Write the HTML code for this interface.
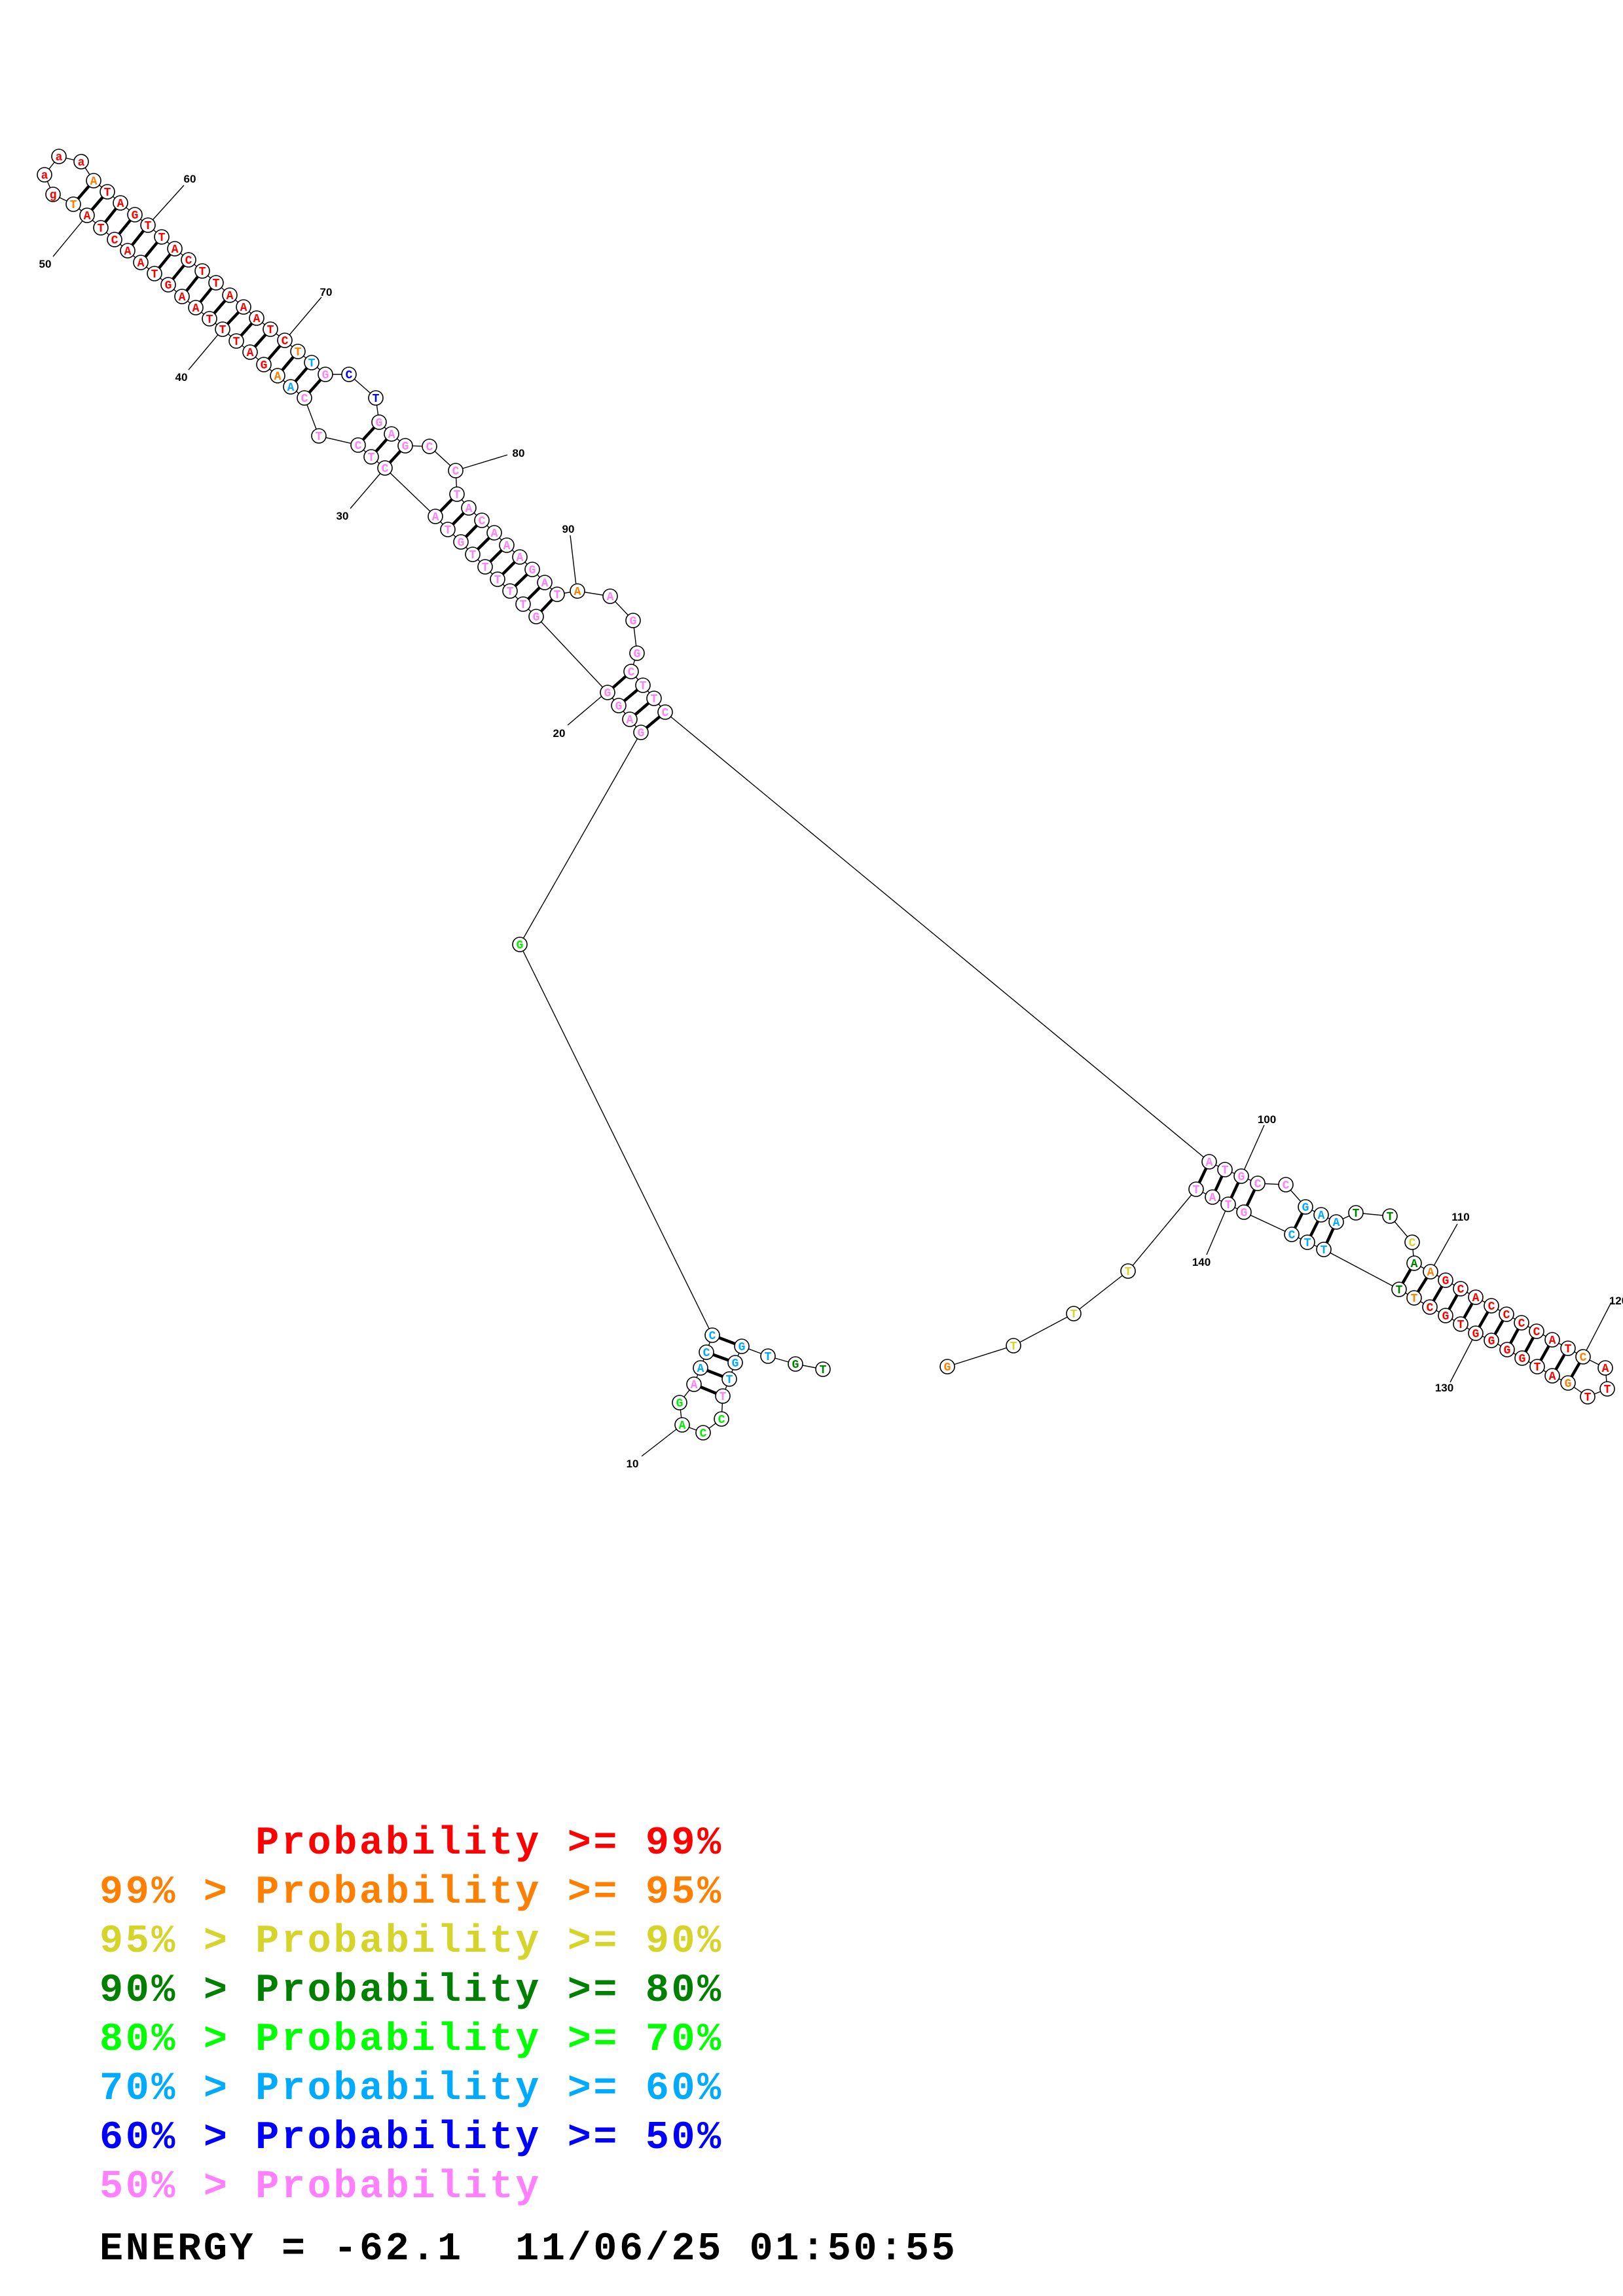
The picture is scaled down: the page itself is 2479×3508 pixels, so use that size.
<!DOCTYPE html>
<html><head><meta charset="utf-8"><style>
html,body{margin:0;padding:0;background:#fff;}
svg{display:block;}
.n circle{fill:#fff;stroke:#000;stroke-width:1.6;}
.n text{font-family:"Liberation Mono",monospace;font-weight:bold;font-size:18px;text-anchor:middle;}
.rd{fill:#ff0000}.or{fill:#ff8000}.ye{fill:#d4d42a}.dg{fill:#008000}.gr{fill:#00ee00}.lb{fill:#00aaff}.bl{fill:#0000ff}.pk{fill:#ff80ff}
.lab{font-family:"Liberation Sans",sans-serif;font-weight:bold;font-size:17px;fill:#000;text-anchor:middle;}
.leg{font-family:"Liberation Mono",monospace;font-weight:bold;font-size:60px;letter-spacing:3.7px;}
</style></head><body>
<svg width="2479" height="3508" viewBox="0 0 2479 3508" xmlns="http://www.w3.org/2000/svg">
<rect width="2479" height="3508" fill="#fff"/>
<g stroke="#000" stroke-width="1.4" fill="none">
<polyline points="1257,2092 1215,2084 1173,2072 1133,2057 1123,2082 1114,2107 1104,2133 1102,2168 1074,2189 1042,2177 1038,2143 1060,2115 1070,2090 1079,2066 1088,2040 794,1443 979,1119 962,1099 945,1078 928,1058 819,942 799,923 779,903 760,885 741,866 722,847 704,828 684,809 665,789 588,715 567,698 547,680 487,666 465,608 444,591 424,574 403,557 382,538 361,521 340,503 320,487 299,470 278,453 257,435 236,418 215,401 195,383 175,366 154,348 133,329 112,312 81,297 68,267 90,239 124,247 143,276 164,293 184,310 206,328 226,344 247,362 267,380 288,397 309,414 330,432 351,451 372,469 392,486 413,503 435,520 455,537 476,554 497,572 533,572 574,608 579,645 598,663 619,681 656,682 696,719 698,755 716,776 736,795 755,814 774,833 794,851 813,870 832,890 851,908 882,903 932,911 967,948 973,998 964,1026 982,1047 999,1067 1016,1088 1847,1775 1871,1787 1896,1797 1921,1808 1964,1810 1994,1844 2018,1856 2041,1867 2071,1853 2123,1858 2157,1898 2160,1930 2185,1943 2208,1956 2231,1969 2254,1982 2278,1995 2301,2008 2324,2021 2347,2034 2371,2047 2395,2060 2418,2073 2452,2090 2455,2122 2425,2134 2395,2113 2371,2102 2348,2088 2325,2075 2302,2062 2278,2048 2254,2037 2231,2023 2208,2010 2184,1997 2160,1983 2137,1970 2022,1909 1997,1898 1973,1886 1900,1852 1876,1840 1852,1829 1827,1817 1723,1942 1640,2007 1548,2056 1447,2088"/>
<!-- leader lines -->
<line x1="1034" y1="2183" x2="980" y2="2225"/>
<line x1="920" y1="1063" x2="867" y2="1108"/>
<line x1="588" y1="715" x2="535" y2="777"/>
<line x1="340" y1="503" x2="288" y2="565"/>
<line x1="133" y1="329" x2="81" y2="392"/>
<line x1="226" y1="344" x2="281" y2="283"/>
<line x1="435" y1="520" x2="491" y2="454"/>
<line x1="696" y1="719" x2="775" y2="695"/>
<line x1="881" y1="903" x2="871" y2="818"/>
<line x1="1896" y1="1797" x2="1931" y2="1719"/>
<line x1="2185" y1="1943" x2="2226" y2="1870"/>
<line x1="2418" y1="2073" x2="2461" y2="1990"/>
<line x1="2254" y1="2037" x2="2215" y2="2112"/>
<line x1="1876" y1="1840" x2="1843" y2="1917"/>
</g>
<g stroke="#000" stroke-width="4.5">
<line x1="1133" y1="2057" x2="1088" y2="2040"/><line x1="1123" y1="2082" x2="1079" y2="2066"/><line x1="1114" y1="2107" x2="1070" y2="2090"/><line x1="1104" y1="2133" x2="1060" y2="2115"/>
<line x1="979" y1="1119" x2="1016" y2="1088"/><line x1="962" y1="1099" x2="999" y2="1067"/><line x1="945" y1="1078" x2="982" y2="1047"/><line x1="928" y1="1058" x2="964" y2="1026"/>
<line x1="819" y1="942" x2="851" y2="908"/><line x1="799" y1="923" x2="832" y2="890"/><line x1="779" y1="903" x2="813" y2="870"/><line x1="760" y1="885" x2="794" y2="851"/><line x1="741" y1="866" x2="774" y2="833"/><line x1="722" y1="847" x2="755" y2="814"/><line x1="704" y1="828" x2="736" y2="795"/><line x1="684" y1="809" x2="716" y2="776"/><line x1="665" y1="789" x2="698" y2="755"/>
<line x1="588" y1="715" x2="619" y2="681"/><line x1="567" y1="698" x2="598" y2="663"/><line x1="547" y1="680" x2="579" y2="645"/>
<line x1="465" y1="608" x2="497" y2="572"/><line x1="444" y1="591" x2="476" y2="554"/><line x1="424" y1="574" x2="455" y2="537"/><line x1="403" y1="557" x2="435" y2="520"/><line x1="382" y1="538" x2="413" y2="503"/><line x1="361" y1="521" x2="392" y2="486"/><line x1="340" y1="503" x2="372" y2="469"/><line x1="320" y1="487" x2="351" y2="451"/><line x1="299" y1="470" x2="330" y2="432"/><line x1="278" y1="453" x2="309" y2="414"/><line x1="257" y1="435" x2="288" y2="397"/><line x1="236" y1="418" x2="267" y2="380"/><line x1="215" y1="401" x2="247" y2="362"/><line x1="195" y1="383" x2="226" y2="344"/><line x1="175" y1="366" x2="206" y2="328"/><line x1="154" y1="348" x2="184" y2="310"/><line x1="133" y1="329" x2="164" y2="293"/><line x1="112" y1="312" x2="143" y2="276"/>
<line x1="1847" y1="1775" x2="1827" y2="1817"/><line x1="1871" y1="1787" x2="1852" y2="1829"/><line x1="1896" y1="1797" x2="1876" y2="1840"/><line x1="1921" y1="1808" x2="1900" y2="1852"/>
<line x1="1994" y1="1844" x2="1973" y2="1886"/><line x1="2018" y1="1856" x2="1997" y2="1898"/><line x1="2041" y1="1867" x2="2022" y2="1909"/>
<line x1="2160" y1="1930" x2="2137" y2="1970"/><line x1="2185" y1="1943" x2="2160" y2="1983"/><line x1="2208" y1="1956" x2="2184" y2="1997"/><line x1="2231" y1="1969" x2="2208" y2="2010"/><line x1="2254" y1="1982" x2="2231" y2="2023"/><line x1="2278" y1="1995" x2="2254" y2="2037"/><line x1="2301" y1="2008" x2="2278" y2="2048"/><line x1="2324" y1="2021" x2="2302" y2="2062"/><line x1="2347" y1="2034" x2="2325" y2="2075"/><line x1="2371" y1="2047" x2="2348" y2="2088"/><line x1="2395" y1="2060" x2="2371" y2="2102"/><line x1="2418" y1="2073" x2="2395" y2="2113"/>
</g>
<g class="n">
<circle cx="1257" cy="2092" r="11"/><text x="1257" y="2098" class="dg">T</text>
<circle cx="1215" cy="2084" r="11"/><text x="1215" y="2090" class="dg">G</text>
<circle cx="1173" cy="2072" r="11"/><text x="1173" y="2078" class="lb">T</text>
<circle cx="1133" cy="2057" r="11"/><text x="1133" y="2063" class="lb">G</text>
<circle cx="1123" cy="2082" r="11"/><text x="1123" y="2088" class="lb">G</text>
<circle cx="1114" cy="2107" r="11"/><text x="1114" y="2113" class="lb">T</text>
<circle cx="1104" cy="2133" r="11"/><text x="1104" y="2139" class="pk">T</text>
<circle cx="1102" cy="2168" r="11"/><text x="1102" y="2174" class="gr">C</text>
<circle cx="1074" cy="2189" r="11"/><text x="1074" y="2195" class="gr">C</text>
<circle cx="1042" cy="2177" r="11"/><text x="1042" y="2183" class="gr">A</text>
<circle cx="1038" cy="2143" r="11"/><text x="1038" y="2149" class="gr">G</text>
<circle cx="1060" cy="2115" r="11"/><text x="1060" y="2121" class="pk">A</text>
<circle cx="1070" cy="2090" r="11"/><text x="1070" y="2096" class="lb">A</text>
<circle cx="1079" cy="2066" r="11"/><text x="1079" y="2072" class="lb">C</text>
<circle cx="1088" cy="2040" r="11"/><text x="1088" y="2046" class="lb">C</text>
<circle cx="794" cy="1443" r="11"/><text x="794" y="1449" class="gr">G</text>
<circle cx="979" cy="1119" r="11"/><text x="979" y="1125" class="pk">G</text>
<circle cx="962" cy="1099" r="11"/><text x="962" y="1105" class="pk">A</text>
<circle cx="945" cy="1078" r="11"/><text x="945" y="1084" class="pk">G</text>
<circle cx="928" cy="1058" r="11"/><text x="928" y="1064" class="pk">G</text>
<circle cx="819" cy="942" r="11"/><text x="819" y="948" class="pk">G</text>
<circle cx="799" cy="923" r="11"/><text x="799" y="929" class="pk">T</text>
<circle cx="779" cy="903" r="11"/><text x="779" y="909" class="pk">T</text>
<circle cx="760" cy="885" r="11"/><text x="760" y="891" class="pk">T</text>
<circle cx="741" cy="866" r="11"/><text x="741" y="872" class="pk">T</text>
<circle cx="722" cy="847" r="11"/><text x="722" y="853" class="pk">T</text>
<circle cx="704" cy="828" r="11"/><text x="704" y="834" class="pk">G</text>
<circle cx="684" cy="809" r="11"/><text x="684" y="815" class="pk">T</text>
<circle cx="665" cy="789" r="11"/><text x="665" y="795" class="pk">A</text>
<circle cx="588" cy="715" r="11"/><text x="588" y="721" class="pk">C</text>
<circle cx="567" cy="698" r="11"/><text x="567" y="704" class="pk">T</text>
<circle cx="547" cy="680" r="11"/><text x="547" y="686" class="pk">C</text>
<circle cx="487" cy="666" r="11"/><text x="487" y="672" class="pk">T</text>
<circle cx="465" cy="608" r="11"/><text x="465" y="614" class="pk">C</text>
<circle cx="444" cy="591" r="11"/><text x="444" y="597" class="lb">A</text>
<circle cx="424" cy="574" r="11"/><text x="424" y="580" class="or">A</text>
<circle cx="403" cy="557" r="11"/><text x="403" y="563" class="rd">G</text>
<circle cx="382" cy="538" r="11"/><text x="382" y="544" class="rd">A</text>
<circle cx="361" cy="521" r="11"/><text x="361" y="527" class="rd">T</text>
<circle cx="340" cy="503" r="11"/><text x="340" y="509" class="rd">T</text>
<circle cx="320" cy="487" r="11"/><text x="320" y="493" class="rd">T</text>
<circle cx="299" cy="470" r="11"/><text x="299" y="476" class="rd">A</text>
<circle cx="278" cy="453" r="11"/><text x="278" y="459" class="rd">A</text>
<circle cx="257" cy="435" r="11"/><text x="257" y="441" class="rd">G</text>
<circle cx="236" cy="418" r="11"/><text x="236" y="424" class="rd">T</text>
<circle cx="215" cy="401" r="11"/><text x="215" y="407" class="rd">A</text>
<circle cx="195" cy="383" r="11"/><text x="195" y="389" class="rd">A</text>
<circle cx="175" cy="366" r="11"/><text x="175" y="372" class="rd">C</text>
<circle cx="154" cy="348" r="11"/><text x="154" y="354" class="rd">T</text>
<circle cx="133" cy="329" r="11"/><text x="133" y="335" class="rd">A</text>
<circle cx="112" cy="312" r="11"/><text x="112" y="318" class="or">T</text>
<circle cx="81" cy="297" r="11"/><text x="81" y="303" class="rd">g</text>
<circle cx="68" cy="267" r="11"/><text x="68" y="273" class="rd">a</text>
<circle cx="90" cy="239" r="11"/><text x="90" y="245" class="rd">a</text>
<circle cx="124" cy="247" r="11"/><text x="124" y="253" class="rd">a</text>
<circle cx="143" cy="276" r="11"/><text x="143" y="282" class="or">A</text>
<circle cx="164" cy="293" r="11"/><text x="164" y="299" class="rd">T</text>
<circle cx="184" cy="310" r="11"/><text x="184" y="316" class="rd">A</text>
<circle cx="206" cy="328" r="11"/><text x="206" y="334" class="rd">G</text>
<circle cx="226" cy="344" r="11"/><text x="226" y="350" class="rd">T</text>
<circle cx="247" cy="362" r="11"/><text x="247" y="368" class="rd">T</text>
<circle cx="267" cy="380" r="11"/><text x="267" y="386" class="rd">A</text>
<circle cx="288" cy="397" r="11"/><text x="288" y="403" class="rd">C</text>
<circle cx="309" cy="414" r="11"/><text x="309" y="420" class="rd">T</text>
<circle cx="330" cy="432" r="11"/><text x="330" y="438" class="rd">T</text>
<circle cx="351" cy="451" r="11"/><text x="351" y="457" class="rd">A</text>
<circle cx="372" cy="469" r="11"/><text x="372" y="475" class="rd">A</text>
<circle cx="392" cy="486" r="11"/><text x="392" y="492" class="rd">A</text>
<circle cx="413" cy="503" r="11"/><text x="413" y="509" class="rd">T</text>
<circle cx="435" cy="520" r="11"/><text x="435" y="526" class="rd">C</text>
<circle cx="455" cy="537" r="11"/><text x="455" y="543" class="or">T</text>
<circle cx="476" cy="554" r="11"/><text x="476" y="560" class="lb">T</text>
<circle cx="497" cy="572" r="11"/><text x="497" y="578" class="pk">G</text>
<circle cx="533" cy="572" r="11"/><text x="533" y="578" class="bl">C</text>
<circle cx="574" cy="608" r="11"/><text x="574" y="614" class="bl">T</text>
<circle cx="579" cy="645" r="11"/><text x="579" y="651" class="pk">G</text>
<circle cx="598" cy="663" r="11"/><text x="598" y="669" class="pk">A</text>
<circle cx="619" cy="681" r="11"/><text x="619" y="687" class="pk">G</text>
<circle cx="656" cy="682" r="11"/><text x="656" y="688" class="pk">C</text>
<circle cx="696" cy="719" r="11"/><text x="696" y="725" class="pk">C</text>
<circle cx="698" cy="755" r="11"/><text x="698" y="761" class="pk">T</text>
<circle cx="716" cy="776" r="11"/><text x="716" y="782" class="pk">A</text>
<circle cx="736" cy="795" r="11"/><text x="736" y="801" class="pk">C</text>
<circle cx="755" cy="814" r="11"/><text x="755" y="820" class="pk">A</text>
<circle cx="774" cy="833" r="11"/><text x="774" y="839" class="pk">A</text>
<circle cx="794" cy="851" r="11"/><text x="794" y="857" class="pk">A</text>
<circle cx="813" cy="870" r="11"/><text x="813" y="876" class="pk">G</text>
<circle cx="832" cy="890" r="11"/><text x="832" y="896" class="pk">A</text>
<circle cx="851" cy="908" r="11"/><text x="851" y="914" class="pk">T</text>
<circle cx="882" cy="903" r="11"/><text x="882" y="909" class="or">A</text>
<circle cx="932" cy="911" r="11"/><text x="932" y="917" class="pk">A</text>
<circle cx="967" cy="948" r="11"/><text x="967" y="954" class="pk">G</text>
<circle cx="973" cy="998" r="11"/><text x="973" y="1004" class="pk">G</text>
<circle cx="964" cy="1026" r="11"/><text x="964" y="1032" class="pk">C</text>
<circle cx="982" cy="1047" r="11"/><text x="982" y="1053" class="pk">T</text>
<circle cx="999" cy="1067" r="11"/><text x="999" y="1073" class="pk">T</text>
<circle cx="1016" cy="1088" r="11"/><text x="1016" y="1094" class="pk">C</text>
<circle cx="1847" cy="1775" r="11"/><text x="1847" y="1781" class="pk">A</text>
<circle cx="1871" cy="1787" r="11"/><text x="1871" y="1793" class="pk">T</text>
<circle cx="1896" cy="1797" r="11"/><text x="1896" y="1803" class="pk">G</text>
<circle cx="1921" cy="1808" r="11"/><text x="1921" y="1814" class="pk">C</text>
<circle cx="1964" cy="1810" r="11"/><text x="1964" y="1816" class="pk">C</text>
<circle cx="1994" cy="1844" r="11"/><text x="1994" y="1850" class="lb">G</text>
<circle cx="2018" cy="1856" r="11"/><text x="2018" y="1862" class="lb">A</text>
<circle cx="2041" cy="1867" r="11"/><text x="2041" y="1873" class="lb">A</text>
<circle cx="2071" cy="1853" r="11"/><text x="2071" y="1859" class="dg">T</text>
<circle cx="2123" cy="1858" r="11"/><text x="2123" y="1864" class="dg">T</text>
<circle cx="2157" cy="1898" r="11"/><text x="2157" y="1904" class="ye">C</text>
<circle cx="2160" cy="1930" r="11"/><text x="2160" y="1936" class="dg">A</text>
<circle cx="2185" cy="1943" r="11"/><text x="2185" y="1949" class="or">A</text>
<circle cx="2208" cy="1956" r="11"/><text x="2208" y="1962" class="rd">G</text>
<circle cx="2231" cy="1969" r="11"/><text x="2231" y="1975" class="rd">C</text>
<circle cx="2254" cy="1982" r="11"/><text x="2254" y="1988" class="rd">A</text>
<circle cx="2278" cy="1995" r="11"/><text x="2278" y="2001" class="rd">C</text>
<circle cx="2301" cy="2008" r="11"/><text x="2301" y="2014" class="rd">C</text>
<circle cx="2324" cy="2021" r="11"/><text x="2324" y="2027" class="rd">C</text>
<circle cx="2347" cy="2034" r="11"/><text x="2347" y="2040" class="rd">C</text>
<circle cx="2371" cy="2047" r="11"/><text x="2371" y="2053" class="rd">A</text>
<circle cx="2395" cy="2060" r="11"/><text x="2395" y="2066" class="rd">T</text>
<circle cx="2418" cy="2073" r="11"/><text x="2418" y="2079" class="or">C</text>
<circle cx="2452" cy="2090" r="11"/><text x="2452" y="2096" class="rd">A</text>
<circle cx="2455" cy="2122" r="11"/><text x="2455" y="2128" class="rd">T</text>
<circle cx="2425" cy="2134" r="11"/><text x="2425" y="2140" class="rd">T</text>
<circle cx="2395" cy="2113" r="11"/><text x="2395" y="2119" class="or">G</text>
<circle cx="2371" cy="2102" r="11"/><text x="2371" y="2108" class="rd">A</text>
<circle cx="2348" cy="2088" r="11"/><text x="2348" y="2094" class="rd">T</text>
<circle cx="2325" cy="2075" r="11"/><text x="2325" y="2081" class="rd">G</text>
<circle cx="2302" cy="2062" r="11"/><text x="2302" y="2068" class="rd">G</text>
<circle cx="2278" cy="2048" r="11"/><text x="2278" y="2054" class="rd">G</text>
<circle cx="2254" cy="2037" r="11"/><text x="2254" y="2043" class="rd">G</text>
<circle cx="2231" cy="2023" r="11"/><text x="2231" y="2029" class="rd">T</text>
<circle cx="2208" cy="2010" r="11"/><text x="2208" y="2016" class="rd">G</text>
<circle cx="2184" cy="1997" r="11"/><text x="2184" y="2003" class="rd">C</text>
<circle cx="2160" cy="1983" r="11"/><text x="2160" y="1989" class="or">T</text>
<circle cx="2137" cy="1970" r="11"/><text x="2137" y="1976" class="dg">T</text>
<circle cx="2022" cy="1909" r="11"/><text x="2022" y="1915" class="lb">T</text>
<circle cx="1997" cy="1898" r="11"/><text x="1997" y="1904" class="lb">T</text>
<circle cx="1973" cy="1886" r="11"/><text x="1973" y="1892" class="lb">C</text>
<circle cx="1900" cy="1852" r="11"/><text x="1900" y="1858" class="pk">G</text>
<circle cx="1876" cy="1840" r="11"/><text x="1876" y="1846" class="pk">T</text>
<circle cx="1852" cy="1829" r="11"/><text x="1852" y="1835" class="pk">A</text>
<circle cx="1827" cy="1817" r="11"/><text x="1827" y="1823" class="pk">T</text>
<circle cx="1723" cy="1942" r="11"/><text x="1723" y="1948" class="ye">T</text>
<circle cx="1640" cy="2007" r="11"/><text x="1640" y="2013" class="ye">T</text>
<circle cx="1548" cy="2056" r="11"/><text x="1548" y="2062" class="ye">T</text>
<circle cx="1447" cy="2088" r="11"/><text x="1447" y="2094" class="or">G</text>
</g>
<g class="lab">
<text x="966" y="2242">10</text>
<text x="854" y="1126">20</text>
<text x="523" y="794">30</text>
<text x="277" y="582">40</text>
<text x="69" y="409">50</text>
<text x="290" y="279">60</text>
<text x="498" y="452">70</text>
<text x="792" y="698">80</text>
<text x="868" y="814">90</text>
<text x="1935" y="1716">100</text>
<text x="2231" y="1865">110</text>
<text x="2472" y="1993">120</text>
<text x="2206" y="2126">130</text>
<text x="1835" y="1934">140</text>
</g>
<g class="leg" xml:space="preserve">
<text x="152" y="2832" fill="#ff0000" xml:space="preserve">      Probability &gt;= 99%</text>
<text x="152" y="2907" fill="#ff8000" xml:space="preserve">99% &gt; Probability &gt;= 95%</text>
<text x="152" y="2982" fill="#d4d42a" xml:space="preserve">95% &gt; Probability &gt;= 90%</text>
<text x="152" y="3057" fill="#008000" xml:space="preserve">90% &gt; Probability &gt;= 80%</text>
<text x="152" y="3132" fill="#00ff00" xml:space="preserve">80% &gt; Probability &gt;= 70%</text>
<text x="152" y="3207" fill="#00aaff" xml:space="preserve">70% &gt; Probability &gt;= 60%</text>
<text x="152" y="3282" fill="#0000ff" xml:space="preserve">60% &gt; Probability &gt;= 50%</text>
<text x="152" y="3357" fill="#ff80ff" xml:space="preserve">50% &gt; Probability</text>
<text x="152" y="3452" fill="#000" xml:space="preserve">ENERGY = -62.1  11/06/25 01:50:55</text>
</g>
</svg>
</body></html>
